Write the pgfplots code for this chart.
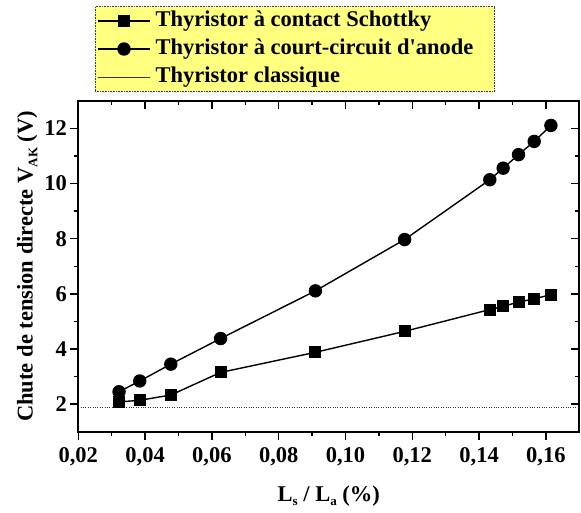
\documentclass[border=0pt]{standalone}
\usepackage{pgfplots}
\pgfplotsset{compat=1.18}
\usepackage{pgfplotstable}
\usepackage{fontspec}
\setmainfont{Liberation Serif}
\definecolor{legyellow}{RGB}{255,255,128}

\pgfplotstableread{
x y
0.0322 2.08
0.0384 2.14
0.0477 2.33
0.0626 3.15
0.0910 3.88
0.1177 4.64
0.1432 5.43
0.1472 5.55
0.1518 5.70
0.1565 5.82
0.1615 5.97
}\schottky

\pgfplotstableread{
x y
0.0322 2.45
0.0384 2.84
0.0477 3.45
0.0626 4.38
0.0910 6.11
0.1177 7.97
0.1432 10.14
0.1472 10.56
0.1518 11.05
0.1565 11.53
0.1615 12.11
}\court

\pgfplotstableread{
x y
0.02 1.90
0.17 1.90
}\classique

\newcommand{\bigfont}{\fontsize{22.5}{26}\selectfont\bfseries}
\newcommand{\lowsub}[1]{\raisebox{-0.45ex}{\fontsize{13}{15}\selectfont\bfseries #1}}

\begin{document}
\begin{tikzpicture}[font=\bigfont]
\path[use as bounding box] (-78.3pt,-80.3pt) rectangle (502.7pt,431.7pt);
\pgfplotsset{common/.style={
  scale only axis, width=501pt, height=330.8pt,
  xmin=0.02, xmax=0.17, ymin=1, ymax=13,
  xtick={0.02,0.04,0.06,0.08,0.10,0.12,0.14,0.16},
  minor xtick={0.03,0.05,0.07,0.09,0.11,0.13,0.15},
  ytick={2,4,6,8,10,12},
  minor ytick={3,5,7,9,11},
  major tick length=8pt, minor tick length=4.5pt,
  tick style={black, line width=1.4pt},
  axis line style={line width=2pt, line cap=rect},
}}
\begin{axis}[common, axis x line*=top, axis y line*=right, tick align=inside,
  xticklabels={}, yticklabels={}]
\end{axis}
\begin{axis}[common, axis x line*=bottom, axis y line*=left, tick align=outside,
  tick label style={font=\bigfont},
  label style={font=\bigfont},
  xticklabel style={yshift=-4pt, /pgf/number format/.cd, use comma, fixed, fixed zerofill, precision=2, assume math mode=true},
  yticklabel style={/pgf/number format/.cd, assume math mode=true},
  xlabel={L\lowsub{s} / L\lowsub{a} (\%)},
  xlabel style={yshift=-13pt},
  ylabel={Chute de tension directe V\lowsub{AK} (V)},
  legend cell align=left,
  legend style={font=\bigfont, at={(axis description cs:0,1)}, anchor=south west,
    xshift=16.7pt, yshift=9.3pt, fill=legyellow, draw=black!75,
    dash pattern=on 0.8pt off 0.8pt, line width=0.6pt,
    inner xsep=2pt, inner ysep=0pt, row sep=0pt, column sep=3pt,
    nodes={inner xsep=2pt, inner ysep=3.6pt, text height=16pt, text depth=5pt, solid}},
  legend image code/.code={\draw[solid,#1,mark repeat=2,mark phase=2] plot coordinates {(0pt,0pt) (26pt,0pt) (52pt,0pt)};},
]
\addplot[black, line width=1.4pt, mark=square*, mark size=5.3pt, mark options={solid}] table {\schottky};
\addlegendentry{Thyristor à contact Schottky}
\addplot[black, line width=1.4pt, mark=*, mark size=6pt, mark options={solid}] table {\court};
\addlegendentry{Thyristor à court-circuit d\textquotesingle anode\kern 17pt\mbox{}}
\addplot[black!80, line width=0.7pt, dash pattern=on 0.8pt off 1.6pt] table {\classique};
\addlegendentry{Thyristor classique}
\end{axis}
\end{tikzpicture}
\end{document}
